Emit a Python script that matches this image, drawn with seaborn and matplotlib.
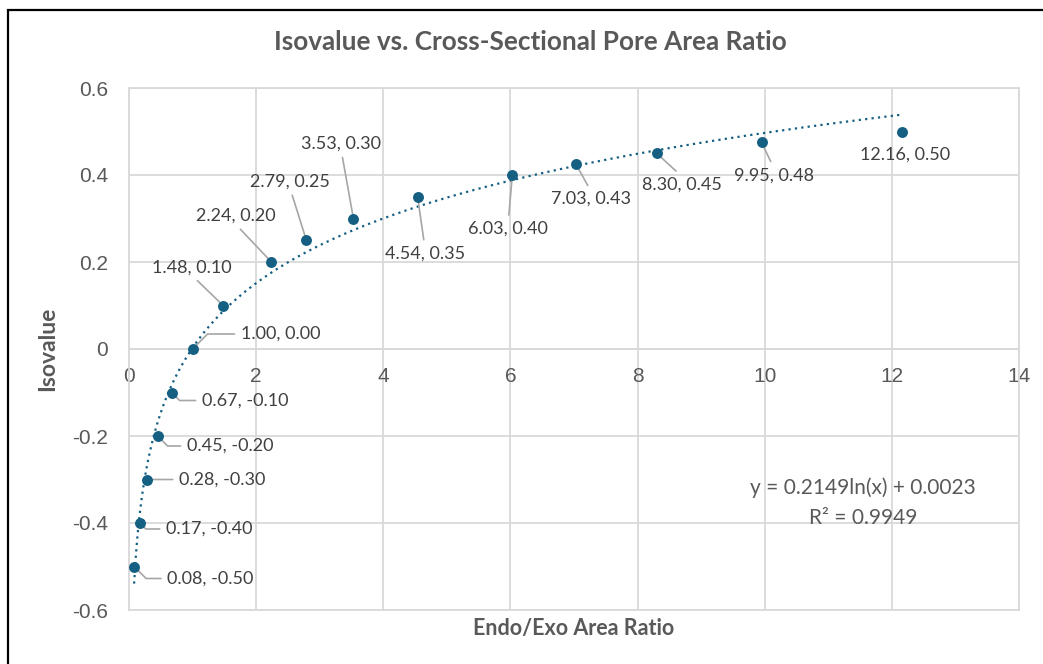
import numpy as np
import pandas as pd
import matplotlib
matplotlib.use("Agg")
import matplotlib.pyplot as plt
import seaborn as sns
from matplotlib.patches import Rectangle

# ---------------- data ----------------
ratio = [0.08, 0.17, 0.28, 0.45, 0.67, 1.00, 1.48, 2.24, 2.79, 3.53,
         4.54, 6.03, 7.03, 8.30, 9.95, 12.16]
isovalue = [-0.50, -0.40, -0.30, -0.20, -0.10, 0.00, 0.10, 0.20, 0.25, 0.30,
            0.35, 0.40, 0.425, 0.45, 0.475, 0.50]
point_labels = ["0.08, -0.50", "0.17, -0.40", "0.28, -0.30", "0.45, -0.20",
                "0.67, -0.10", "1.00, 0.00", "1.48, 0.10", "2.24, 0.20",
                "2.79, 0.25", "3.53, 0.30", "4.54, 0.35", "6.03, 0.40",
                "7.03, 0.43", "8.30, 0.45", "9.95, 0.48", "12.16, 0.50"]
x_ticks = [0, 2, 4, 6, 8, 10, 12, 14]
x_tick_labels = ["0", "2", "4", "6", "8", "10", "12", "14"]
y_ticks = [-0.6, -0.4, -0.2, 0.0, 0.2, 0.4, 0.6]
y_tick_labels = ["-0.6", "-0.4", "-0.2", "0", "0.2", "0.4", "0.6"]
title = "Isovalue vs. Cross-Sectional Pore Area Ratio"
x_title = "Endo/Exo Area Ratio"
y_title = "Isovalue"
eq_text = "y = 0.2149ln(x) + 0.0023"
r2_text = "R² = 0.9949"

# ---------------- label placement (style) ----------------
# (dx px, dy px, ha, relpos, kind)
label_layout = [
    (33, -12, "left", (0, 0.5), "elbow-"),
    (26, -6, "left", (0, 0.5), "elbow-"),
    (32, 0, "left", (0, 0.5), "straight"),
    (29, -10, "left", (0, 0.5), "elbow-"),
    (30, -8, "left", (0, 0.5), "elbow-"),
    (48, 15, "left", (0, 0.5), "elbow+"),
    (-31, 38, "center", (0.5, 0), "straight"),
    (-36, 46, "center", (0.5, 0), "straight"),
    (-16, 59, "center", (0.5, 0), "straight"),
    (-12, 75, "center", (0.5, 0), "straight"),
    (7, -57, "center", (0.5, 1), "straight"),
    (-4, -54, "center", (0.5, 1), "straight"),
    (15, -35, "center", (0.5, 1), "straight"),
    (25, -31, "center", (0.5, 1), "straight"),
    (12, -33, "center", (0.5, 1), "straight"),
    (3, -23, "center", (0.5, 1), "none"),
]

BLUE = "#156082"
GRID = "#D9D9D9"
TXT = "#595959"
LBL = "#404040"
LEAD = "#A6A6A6"

sns.set_style("white")
plt.rcParams["font.family"] = ["Lato", "DejaVu Sans"]
plt.rcParams["axes.unicode_minus"] = False

fig = plt.figure(figsize=(10.43, 6.64), dpi=100)
ax = fig.add_axes([129 / 1043, 54 / 664, 890 / 1043, 522 / 664])

df = pd.DataFrame({"ratio": ratio, "iso": isovalue})

# logarithmic trendline fitted to the data
coef = np.polyfit(np.log(df["ratio"]), df["iso"], 1)
xfit = np.linspace(df["ratio"].min(), df["ratio"].max(), 500)
fit_df = pd.DataFrame({"x": xfit, "y": coef[0] * np.log(xfit) + coef[1]})
sns.lineplot(data=fit_df, x="x", y="y", ax=ax, color=BLUE, lw=1.6,
             linestyle=(0, (1, 1.9)), zorder=3, estimator=None, sort=False)

sns.scatterplot(data=df, x="ratio", y="iso", ax=ax, color=BLUE, s=62,
                linewidth=0, zorder=5)

# data labels with leader lines
for xv, yv, txt, (dx, dy, ha, relpos, kind) in zip(ratio, isovalue, point_labels, label_layout):
    if kind == "none":
        arrow = None
    else:
        if kind == "elbow-":
            cs = "angle,angleA=0,angleB=-45,rad=0"
        elif kind == "elbow+":
            cs = "angle,angleA=0,angleB=45,rad=0"
        else:
            cs = "arc3,rad=0"
        arrow = dict(arrowstyle="-", color=LEAD, lw=1.2, relpos=relpos,
                     shrinkA=2, shrinkB=2, connectionstyle=cs)
    ax.annotate(txt, xy=(xv, yv), xytext=(dx, dy), textcoords="offset pixels",
                ha=ha, va="center", fontsize=13, color=LBL,
                arrowprops=arrow, zorder=4)

# axes styling
ax.set_xlim(0, 14)
ax.set_ylim(-0.6, 0.6)
ax.set_xticks(x_ticks)
ax.set_xticklabels(x_tick_labels)
ax.set_yticks(y_ticks)
ax.set_yticklabels(y_tick_labels)
ax.grid(True, color=GRID, lw=1.3)
ax.set_axisbelow(True)
for s in ax.spines.values():
    s.set_color(GRID)
    s.set_linewidth(1.3)
ax.spines["bottom"].set_position(("data", 0))
ax.axhline(-0.6, color=GRID, lw=1.3, clip_on=False, zorder=0)
ax.tick_params(axis="both", length=0, labelcolor=TXT, labelsize=15)
ax.tick_params(axis="x", pad=13)
ax.tick_params(axis="y", pad=15)
for t in ax.get_xticklabels() + ax.get_yticklabels():
    t.set_fontfamily(["Liberation Sans", "DejaVu Sans"])
ax.set_xlabel("")
ax.set_ylabel("")

# trendline equation
ax.text((863 - 129) / 890, 1 - (488 - 88) / 522, eq_text,
        transform=ax.transAxes, ha="center", va="center", fontsize=15, color=TXT)
ax.text((863 - 129) / 890, 1 - (518 - 88) / 522, r2_text,
        transform=ax.transAxes, ha="center", va="center", fontsize=15, color=TXT)

# titles
fig.text(530 / 1043, 1 - 42 / 664, title, ha="center", va="center",
         fontsize=18.8, fontweight="bold", color=TXT)
fig.text(574 / 1043, 1 - 629 / 664, x_title, ha="center", va="center",
         fontsize=15.5, fontweight="bold", color=TXT)
fig.text(48 / 1043, 1 - 349 / 664, y_title, ha="center", va="center",
         rotation=90, fontsize=16.5, fontweight="bold", color=TXT)

# chart-area border
fig.add_artist(Rectangle((7.5 / 1043, -0.1), 1.2, 1 - 10 / 664 + 0.1,
                         transform=fig.transFigure, fill=False,
                         ec="black", lw=1.6))

fig.savefig("out.png", dpi=100)
